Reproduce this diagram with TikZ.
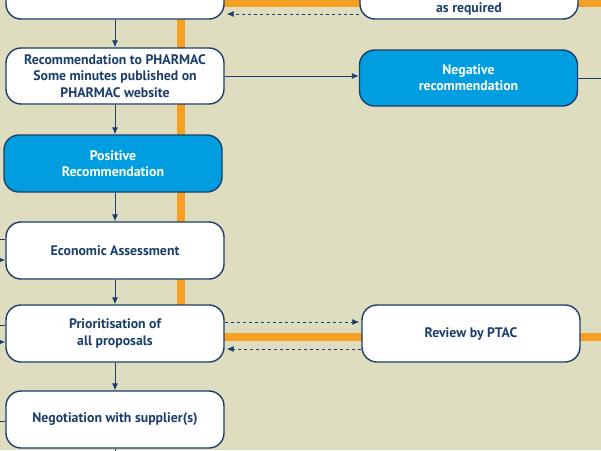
\documentclass[tikz,border=0pt]{standalone}
\usepackage{fontspec}
\setmainfont{PT Sans}
\usetikzlibrary{arrows.meta,positioning}
\definecolor{bgbeige}{RGB}{223,221,192}
\definecolor{navy}{RGB}{27,62,106}
\definecolor{skyblue}{RGB}{0,158,224}
\definecolor{track}{RGB}{245,160,35}
\tikzset{stage/.style={draw=navy, line width=1.4pt, rounded corners=15pt, fill=white,
    minimum width=218pt, minimum height=57pt, align=center, text=navy,
    font=\fontsize{13.8}{16.2}\selectfont\bfseries},
  decision/.style={stage, fill=skyblue, text=white},
  arr/.style={draw=navy, line width=0.9pt, -{Latex[length=7pt,width=6pt]}},
  link/.style={draw=navy, line width=0.9pt},
  back/.style={arr, dashed, dash pattern=on 3pt off 3pt, line width=0.8pt, shorten >=2pt},
  tracks/.style={draw=track, line width=8pt}}

\begin{document}
\begin{tikzpicture}[x=1pt,y=-1pt]
    \useasboundingbox (0,0) rectangle (601,450);
    \clip (0,0) rectangle (601,450);
    \fill[bgbeige] (0,0) rectangle (601,450);
    % orange tracks behind the boxes
    \draw[tracks] (115,3) -- (601,3);
    \draw[tracks] (181,-5) -- (181,337) -- (601,337);
        \node[stage, minimum height=59pt] (top) at (115,-10.5) {};
        \node[stage, minimum height=56pt] (req) at (469,-9) {};
        \node[text=navy, font=\fontsize{13.8}{16.2}\selectfont\bfseries] (reqtxt)
            at ([yshift=11pt]req.south) {as required};
        \node[stage, minimum height=56pt] (rec) at (115,76)
            {Recommendation to PHARMAC\\Some minutes published on\\PHARMAC website};
        \node[decision, minimum height=56pt] (neg) at (468.5,78) {Negative\\recommendation};
        \node[decision] (pos) at (113,163.5) {Positive\\Recommendation};
        \node[stage] (econ) at (115,250.5) {Economic Assessment};
        \node[stage] (prio) at (115,333.5) {Prioritisation of\\all proposals};
        \node[stage] (rev) at (471,333.5) {Review by PTAC};
        \node[stage] (nego) at (115,419.5) {Negotiation with supplier(s)};
        \coordinate (negout) at (601,78);
        \coordinate (negoout) at (115,460);
        \coordinate (e1) at (0,239);
        \coordinate (e2) at (0,260);
        \coordinate (p1) at (0,325);
        \coordinate (p2) at (0,342);
        \coordinate (n1) at (0,421);
    \draw[arr] (top.south) -- (rec.north);
    \draw[arr] (rec.south) -- (rec.south |- pos.north);
    \draw[arr] (rec.south |- pos.south) -- (econ.north);
    \draw[arr] (econ.south) -- (prio.north);
    \draw[arr] (prio.south) -- (nego.north);
    \draw[link] (nego.south) -- (negoout);
    \draw[arr] (rec.east) -- (rec.east -| neg.west);
    \draw[link] (neg.east) -- (negout);
    \draw[link] (e1) -- (e1 -| econ.west);
    \draw[arr] (e2) -- (e2 -| econ.west);
    \draw[link] (p1) -- (p1 -| prio.west);
    \draw[arr] (p2) -- (p2 -| prio.west);
    \draw[link] (n1) -- (n1 -| nego.west);
    % dashed returns
    \draw[back] ([yshift=-23pt]req.west) -- ([yshift=-23pt]req.west -| top.east);
    \draw[back] ([yshift=11.5pt]prio.east) -- ([yshift=11.5pt]prio.east -| rev.west);
    \draw[back] ([yshift=-15.5pt]rev.west) -- ([yshift=-15.5pt]rev.west -| prio.east);
\end{tikzpicture}
\end{document}
